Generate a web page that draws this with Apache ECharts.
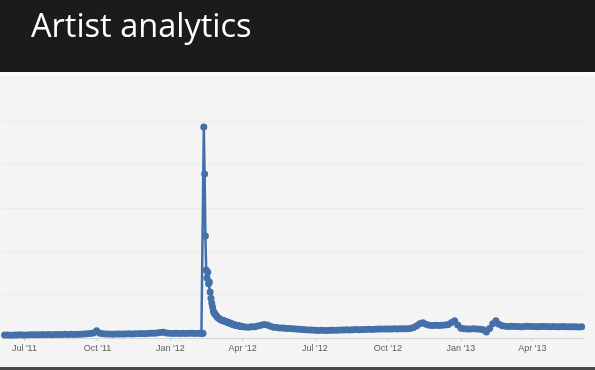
<!DOCTYPE html>
<html>
<head>
<meta charset="utf-8">
<script src="https://cdn.jsdelivr.net/npm/echarts@6/dist/echarts.min.js"></script>
<style>
  html, body { margin: 0; padding: 0; background: #f4f4f4; }
  #chart { width: 595px; height: 370px; }
</style>
</head>
<body>
<div id="chart"></div>
<script>
// ---- Data (daily plays) ----
const titleText = 'Artist analytics';

// Before the spike: one reading every 4 days from 2011-06-06
const preStart = '2011-06-06';
const preStep = 4;
const preValues = [68, 70, 66, 72, 70, 74, 71, 69, 75, 73,
  76, 74, 78, 75, 80, 77, 79, 82, 78, 84,
  81, 86, 83, 88, 85, 92, 96, 104,
  118, 170, 112, 96,
  90, 92, 88, 94, 91, 95, 93, 97, 94, 99,
  96, 101, 98, 104, 108, 112, 118, 125,
  130, 116,
  108, 106, 110, 104, 108, 105, 110, 107, 104, 108, 106];

// Spike period: daily from 2012-02-10
const spikeStart = '2012-02-10';
const spikeStep = 1;
const spikeValues = [104, 108, 4870, 3785, 2354, 1570, 1385, 1520, 1250, 1290,
  1060, 920, 810, 715, 625, 575, 560, 530, 505, 485,
  470, 455, 440, 428, 418, 410, 402, 395, 390, 384,
  378, 372, 366, 358, 350, 342, 335, 328, 320, 312,
  305, 300, 296, 292, 288, 284, 280, 276, 272, 268, 265, 262];

// After the spike: one reading every 4 days from 2012-04-04
const postStart = '2012-04-04';
const postStep = 4;
const postValues = [254, 250, 258, 262, 275, 295,
  312, 300, 270, 250,
  240, 232, 228, 222, 218, 212, 208,
  200, 196, 190, 186, 182, 178, 175, 176, 172, 174, 178, 180, 176, 182,
  185, 188, 186, 190, 194, 192, 196, 198, 200, 196, 202, 205, 208,
  206, 210, 208, 212, 210, 214, 212, 216, 222,
  240, 275, 330, 352, 320, 295,
  288, 292, 286, 295, 300, 310,
  360, 400, 300, 225,
  215, 208, 205, 212, 206, 200, 190,
  140, 220, 330, 400, 320,
  280, 272, 268, 270, 265, 268, 262, 266, 270, 264, 268, 262, 265, 268, 264,
  260, 266, 262, 258, 264, 260, 262, 258, 262, 256, 260];

// Axis ticks
const tickDates = ['2011-07-01', '2011-10-01', '2012-01-01', '2012-04-01',
  '2012-07-01', '2012-10-01', '2013-01-01', '2013-04-01'];
const tickLabels = ["Jul '11", "Oct '11", "Jan '12", "Apr '12",
  "Jul '12", "Oct '12", "Jan '13", "Apr '13"];
const xMin = '2011-06-04';
const xMax = '2013-06-05';
const yMax = 6000;
const yStep = 1000;

// ---- Build table ----
const DAY = 86400000;
function ts(s) { const p = s.split('-').map(Number); return Date.UTC(p[0], p[1] - 1, p[2]); }
function seg(start, step, vals) {
  const t0 = ts(start);
  return vals.map((v, i) => [t0 + i * step * DAY, v]);
}
const data = [].concat(seg(preStart, preStep, preValues),
  seg(spikeStart, spikeStep, spikeValues),
  seg(postStart, postStep, postValues));
const tickTs = tickDates.map(ts);

const chart = echarts.init(document.getElementById('chart'), null, { renderer: 'canvas' });
chart.setOption({
  animation: false,
  backgroundColor: '#f4f4f4',
  graphic: [
    { type: 'rect', left: 0, top: 0, shape: { width: 595, height: 72 }, style: { fill: '#1b1b1b' }, z: -1 },
    { type: 'rect', left: 0, top: 72, shape: { width: 595, height: 4 }, style: { fill: '#fafafa' }, z: -1 },
    { type: 'rect', left: 0, top: 367, shape: { width: 595, height: 3 }, style: { fill: '#4a4a4a' }, z: -1 }
  ],
  title: {
    text: titleText,
    left: 26, top: 6,
    textStyle: { color: '#ffffff', fontSize: 32.5, fontWeight: 'normal', fontFamily: 'Open Sans' }
  },
  grid: { left: 3, right: 11, top: 78, bottom: 32, containLabel: false },
  xAxis: {
    type: 'value',
    min: ts(xMin), max: ts(xMax),
    axisLine: { lineStyle: { color: '#d6d6d6', width: 1 } },
    axisTick: { show: true, customValues: tickTs, length: 3, lineStyle: { color: '#c4cedb' } },
    axisLabel: {
      customValues: tickTs,
      margin: 6, showMinLabel: true, showMaxLabel: true,
      color: '#5e5e5e', fontSize: 9, fontFamily: 'Liberation Sans',
      formatter: function (v) { const i = tickTs.indexOf(v); return i >= 0 ? tickLabels[i] : ''; }
    },
    splitLine: { show: false }
  },
  yAxis: {
    type: 'value', min: 0, max: yMax, interval: yStep,
    axisLabel: { show: false }, axisLine: { show: false }, axisTick: { show: false },
    splitLine: { lineStyle: { color: '#eaeaea', width: 1 } }
  },
  series: [{
    type: 'line',
    data: data,
    showSymbol: true,
    showAllSymbol: true,
    symbol: 'circle',
    symbolSize: 7,
    itemStyle: { color: '#4470aa' },
    lineStyle: { color: '#4470aa', width: 2.5 }
  }]
});
</script>
</body>
</html>
